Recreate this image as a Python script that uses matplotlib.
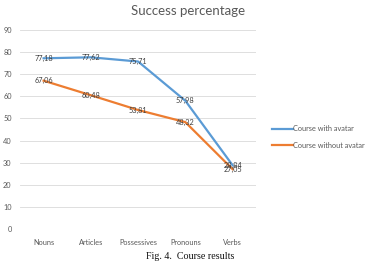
import matplotlib.pyplot as plt

categories = ["Nouns", "Articles", "Possessives", "Pronouns", "Verbs"]
with_avatar = [77.18, 77.62, 75.71, 57.98, 28.84]
without_avatar = [67.06, 60.48, 53.81, 48.32, 27.05]
series_names = ["Course with avatar", "Course without avatar"]
yticks = [0, 10, 20, 30, 40, 50, 60, 70, 80, 90]

plt.rcParams['font.family'] = ['Lato', 'DejaVu Sans']

fig = plt.figure(figsize=(3.75, 2.77), dpi=100)
ax = fig.add_axes([0.0533, 0.173, 0.63, 0.719])

x = list(range(len(categories)))
blue = "#5B9BD5"
orange = "#ED7D31"

ax.plot(x, with_avatar, color=blue, lw=1.6, label=series_names[0], zorder=3)
ax.plot(x, without_avatar, color=orange, lw=1.6, label=series_names[1], zorder=3)

# data labels, centered on the points, comma decimals
for vals in (with_avatar, without_avatar):
    for xi, v in zip(x, vals):
        ax.text(xi, v, f"{v:.2f}".replace(".", ","), ha="center", va="center",
                fontsize=5.3, color="#404040", zorder=4)

ax.set_xlim(-0.5, len(categories) - 0.5)
ax.set_ylim(0, 90)
ax.set_yticks(yticks)
ax.set_xticks(x)
ax.set_xticklabels(categories)
ax.tick_params(axis="both", length=0, labelsize=5.3, colors="#595959")
ax.tick_params(axis="y", pad=6)
ax.tick_params(axis="x", pad=7)
ax.grid(axis="y", color="#D9D9D9", lw=0.6)
ax.set_axisbelow(True)
for s in ax.spines.values():
    s.set_visible(False)

fig.text(0.502, 0.96, "Success percentage", ha="center", va="center",
         fontsize=9.5, color="#595959")

fig.legend(loc="center left", bbox_to_anchor=(0.708, 0.505), frameon=False,
           fontsize=5.3, labelcolor="#595959", handlelength=2.8,
           handletextpad=0.1, labelspacing=1.3)

fig.text(0.507, 0.075, "Fig. 4.  Course results", ha="center", va="center",
         fontsize=7.2, family="Liberation Serif", color="#111111")

fig.savefig("out.png", dpi=100)
